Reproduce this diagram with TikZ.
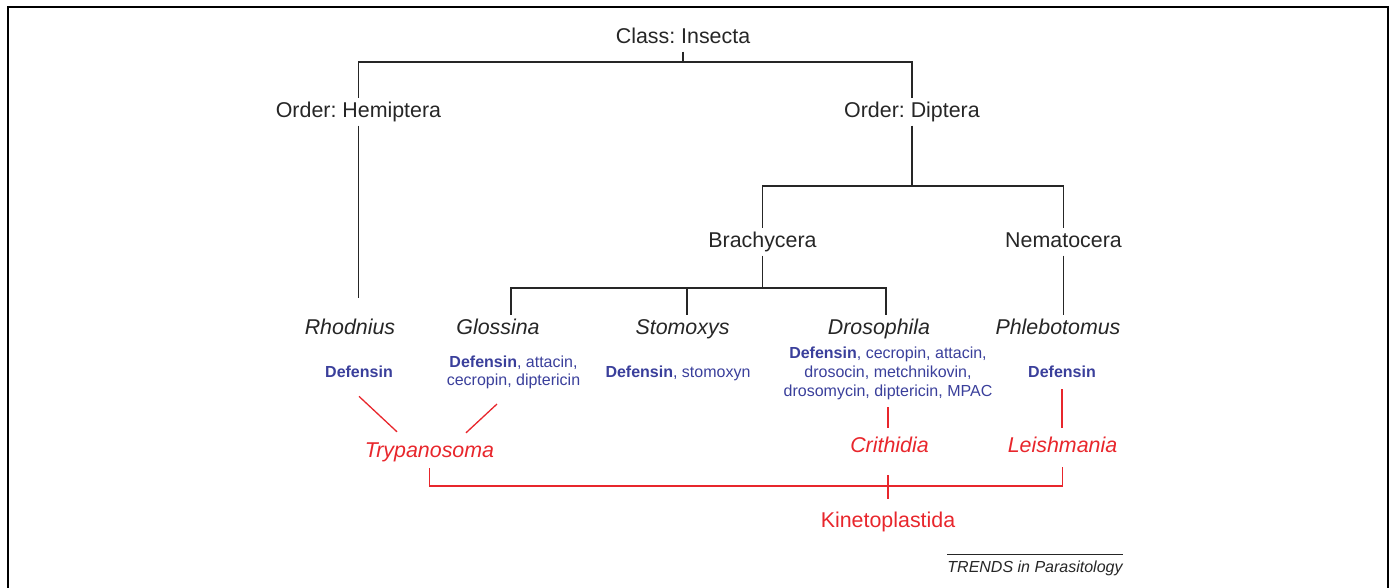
\documentclass[tikz,border=0pt]{standalone}
\usepackage{fontspec}
\setmainfont{Liberation Sans}
\frenchspacing
\usetikzlibrary{positioning,calc}
\definecolor{treegray}{HTML}{262626}
\definecolor{ampblue}{HTML}{3A3F9B}
\definecolor{kinred}{HTML}{E8262C}

\begin{document}
\begin{tikzpicture}[x=1pt,y=-1pt,
  taxon/.style={font=\fontsize{21.4}{24}\selectfont,text=treegray,anchor=base,inner xsep=0pt,inner ysep=4pt,text height=15.3pt,text depth=4.5pt},
  genus/.style={taxon,font=\fontsize{21.4}{24}\selectfont\itshape},
  amp/.style={font=\fontsize{16}{18.7}\selectfont,text=ampblue,align=center,inner sep=0pt},
  parasite/.style={genus,text=kinred},
  credit/.style={font=\fontsize{16}{18}\selectfont\itshape,text=treegray,anchor=base,inner sep=0pt},
  link/.style={draw=treegray,line width=1.3pt},
  redlink/.style={draw=kinred,line width=1.3pt}
]
\useasboundingbox (0,0) rectangle (1395,587);
\draw[line width=2.8pt] (8,590) -- (8,7) -- (1388,7) -- (1388,590);

% ranks
\node[taxon] (insecta) at (683,43) {Class: Insecta};
\node[taxon] (hemiptera) at (358.5,117) {Order: Hemiptera};
\node[taxon] (diptera) at (912,117) {Order: Diptera};
\node[taxon] (brachy) at (762.5,247) {Brachycera};
\node[taxon] (nemato) at (1063.5,247) {Nematocera};

% genera
\node[genus] (rhodnius) at (350,334) {Rhodnius};
\node[genus] (glossina) at (498,334) {Glossina};
\node[genus] (stomoxys) at (682.5,334) {Stomoxys};
\node[genus] (drosophila) at (879,334) {Drosophila};
\node[genus] (phlebotomus) at (1058,334) {Phlebotomus};

% peptides
\node[amp,anchor=base] (rdef) at (359,377) {\textbf{Defensin}};
\node[amp] (gdef) at (513.5,372.4) {\textbf{Defensin}, attacin,\\cecropin, diptericin};
\node[amp,anchor=base] (sdef) at (678,377) {\textbf{Defensin}, stomoxyn};
\node[amp] (ddef) at (888,373.5) {\textbf{Defensin}, cecropin, attacin,\\drosocin, metchnikovin,\\drosomycin, diptericin, MPAC};
\node[amp,anchor=base] (pdef) at (1062,377) {\textbf{Defensin}};

% parasites
\node[parasite] (tryp) at (429.5,457) {Trypanosoma};
\node[parasite] (crithidia) at (889.5,452) {Crithidia};
\node[parasite] (leish) at (1062.5,452) {Leishmania};
\node[taxon,text=kinred] (kineto) at (888,527) {Kinetoplastida};

\node[credit] (trends) at (1035,572) {TRENDS in Parasitology};
\draw[treegray,line width=0.8pt] ([yshift=5.4pt]trends.north west) -- ([yshift=5.4pt]trends.north east);

% tree
\coordinate (insbar) at (683,62);
\coordinate (dipbar) at (912,186);
\coordinate (brabar) at (762.5,288);
\draw[link] (insecta.south) -- (insbar);
\draw[link] (hemiptera.north) |- (insbar) -| (diptera.north);
\draw[link] (hemiptera.south) -- ([yshift=17pt]hemiptera.south |- rhodnius.north);
\draw[link] (diptera.south) -- (dipbar);
\draw[link] (brachy.north) |- (dipbar) -| (nemato.north);
\draw[link] (brachy.south) -- (brabar);
\draw[link] ([xshift=13pt]glossina.north) |- (brabar) -| ([xshift=7pt]drosophila.north);
\draw[link] ([xshift=4.5pt]stomoxys.north) -- ([xshift=4.5pt]stomoxys.north |- brabar);
\draw[link] (nemato.south) -- (nemato.south |- phlebotomus.north);

% hosts to parasites
\draw[redlink] ([yshift=-19pt]rdef.south) -- ([xshift=-32.5pt,yshift=5.7pt]tryp.north);
\draw[redlink] ([xshift=-16.5pt,yshift=-14.6pt]gdef.south) -- ([xshift=36.5pt,yshift=4.7pt]tryp.north);
\draw[redlink] ([yshift=-7.6pt]ddef.south) -- ([yshift=4.7pt]ddef.south |- crithidia.north);
\draw[redlink] ([yshift=-12pt]pdef.south) -- ([yshift=4.7pt]pdef.south |- leish.north);

\coordinate (kinbar) at (888,486);
\draw[redlink] ([yshift=-2.5pt]tryp.south) |- (kinbar) -| ([yshift=-6.5pt]leish.south);
\draw[redlink] ([yshift=11pt]kinbar) -- ([yshift=8.7pt]kinbar |- kineto.north);
\end{tikzpicture}
\end{document}
